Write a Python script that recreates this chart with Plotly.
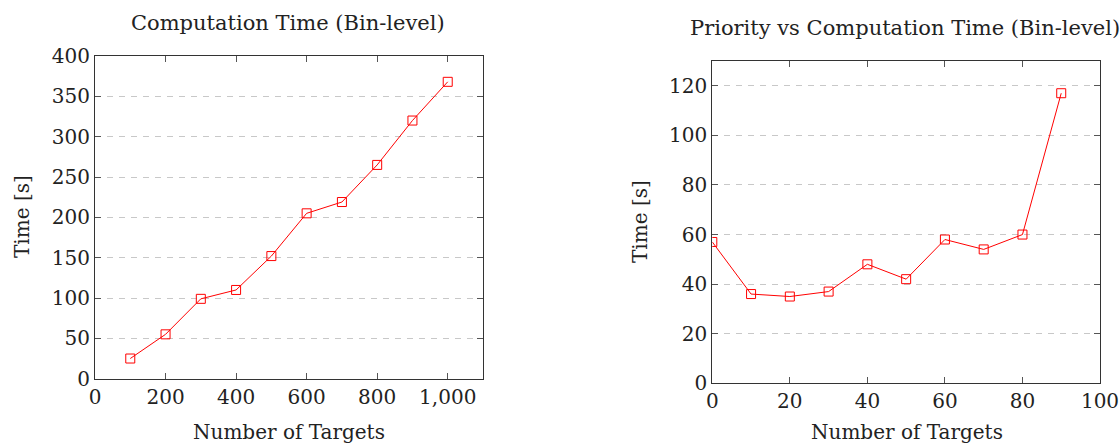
import plotly.graph_objects as go

# Data
left_x = [100, 200, 300, 400, 500, 600, 700, 800, 900, 1000]
left_y = [25, 55, 99, 110, 152, 205, 219, 265, 320, 368]
left_xticks = [0, 200, 400, 600, 800, 1000]
left_xticklabels = ["0", "200", "400", "600", "800", "1,000"]
left_yticks = [0, 50, 100, 150, 200, 250, 300, 350, 400]

right_x = [0, 10, 20, 30, 40, 50, 60, 70, 80, 90]
right_y = [57, 36, 35, 37, 48, 42, 58, 54, 60, 117]
right_xticks = [0, 20, 40, 60, 80, 100]
right_yticks = [0, 20, 40, 60, 80, 100, 120]

FONT = "DejaVu Serif"
FS = 20
TFS = 21
RED = "#ff0000"
TXT = "#222222"

fig = go.Figure()
marker = dict(symbol="square-open", size=9, color=RED, line=dict(width=1, color=RED))
fig.add_trace(go.Scatter(x=left_x, y=left_y, mode="lines+markers",
                         line=dict(color=RED, width=1), marker=marker,
                         xaxis="x", yaxis="y", showlegend=False))
fig.add_trace(go.Scatter(x=right_x, y=right_y, mode="lines+markers",
                         line=dict(color=RED, width=1), marker=marker,
                         xaxis="x2", yaxis="y2", showlegend=False))

axis_common = dict(showline=True, linecolor="#333333", linewidth=1, mirror="ticks",
                   ticks="inside", ticklen=6, tickcolor="#555555", tickwidth=1,
                   tickfont=dict(family=FONT, size=FS, color=TXT),
                   zeroline=False, automargin=False)

fig.update_layout(
    width=1120, height=445,
    margin=dict(l=0, r=0, t=0, b=0, pad=0, autoexpand=False),
    paper_bgcolor="white", plot_bgcolor="white",
    font=dict(family=FONT, color=TXT),
    xaxis=dict(domain=[95/1120, 483/1120], range=[0, 1100], anchor="y",
               tickmode="array", tickvals=left_xticks, ticktext=left_xticklabels,
               showgrid=False, **axis_common),
    yaxis=dict(domain=[1-378.7/445, 1-56/445], range=[0, 400], anchor="x",
               tickmode="array", tickvals=left_yticks,
               showgrid=True, gridcolor="#c8c8c8", griddash="6px,6px", gridwidth=1,
               **axis_common),
    xaxis2=dict(domain=[712.3/1120, 1100/1120], range=[0, 100], anchor="y2",
                tickmode="array", tickvals=right_xticks,
                showgrid=False, **axis_common),
    yaxis2=dict(domain=[1-383.3/445, 1-61/445], range=[0, 130], anchor="x2",
                tickmode="array", tickvals=right_yticks,
                showgrid=True, gridcolor="#c8c8c8", griddash="6px,6px", gridwidth=1,
                **axis_common),
)

annots = [
    dict(text="Computation Time (Bin-level)", x=288/1120, y=1-23/445, angle=0, size=TFS),
    dict(text="Priority vs Computation Time (Bin-level)", x=905/1120, y=1-28/445, angle=0, size=TFS),
    dict(text="Number of Targets", x=289/1120, y=1-432/445, angle=0, size=FS),
    dict(text="Number of Targets", x=907/1120, y=1-432/445, angle=0, size=FS),
    dict(text="Time [s]", x=22/1120, y=1-217/445, angle=-90, size=FS),
    dict(text="Time [s]", x=640/1120, y=1-222/445, angle=-90, size=FS),
]
for a in annots:
    fig.add_annotation(text=a["text"], x=a["x"], y=a["y"], xref="paper", yref="paper",
                       xanchor="center", yanchor="middle", showarrow=False,
                       textangle=a["angle"], font=dict(family=FONT, size=a["size"], color=TXT))

fig.write_html("out.html", config={"displayModeBar": False},
               post_script="document.body.style.margin='0';document.body.style.overflow='hidden';")
